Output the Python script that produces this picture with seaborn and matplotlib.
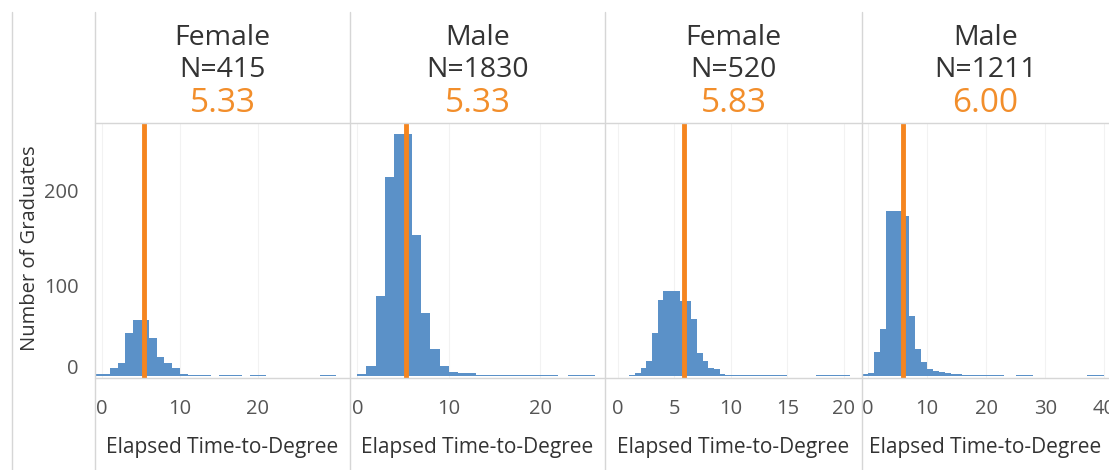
import matplotlib
matplotlib.use("Agg")
import matplotlib.pyplot as plt
import matplotlib.transforms as mtransforms
from matplotlib.lines import Line2D
import seaborn as sns
import numpy as np

## chart data
genders = ["Female", "Male", "Female", "Male"]
n_grads = [415, 1830, 520, 1211]
medians = [5.33, 5.33, 5.83, 6.00]

## histogram bins: first left edge, bin width, counts per bin
p1_start, p1_width = -1, 1.0
p1_counts = [2, 2, 8, 14, 45, 59, 59, 40, 20, 14, 8, 2, 1, 1, 1, 0, 1, 1, 1, 0,
             1, 1, 0, 0, 0, 0, 0, 0, 0, 1, 1]
p2_start, p2_width = 0, 1.0
p2_counts = [2, 11, 84, 209, 254, 254, 148, 66, 29, 11, 4, 3, 3, 1, 1, 1, 1, 1,
             1, 1, 1, 1, 0, 1, 1, 1]
p3_start, p3_width = 1.0, 0.5
p3_counts = [1, 3, 8, 16, 45, 80, 89, 89, 89, 79, 79, 60, 24, 16, 8, 7, 2, 1,
             1, 1, 1, 1, 1, 1, 1, 1, 1, 1, 0, 0, 0, 0, 0, 1, 1, 1, 1, 1, 1]
p4_start, p4_width = -1, 1.0
p4_counts = [2, 3, 25, 50, 173, 173, 173, 168, 63, 28, 15, 7, 5, 4, 3, 2, 2,
             1, 1, 1, 1, 1, 1, 1, 0, 0, 1, 1, 1, 0, 0, 0, 0, 0, 0, 0, 0, 0, 1, 1, 1]

x_ticks = [[0, 10, 20], [0, 10, 20], [0, 5, 10, 15, 20], [0, 10, 20, 30, 40]]
x_limits = [(-0.9, 31.8), (-0.8, 27.1), (-1.15, 21.6), (-1.0, 40.8)]
y_ticks = [0, 100, 200]

bins = [(p1_start, p1_width, p1_counts), (p2_start, p2_width, p2_counts),
        (p3_start, p3_width, p3_counts), (p4_start, p4_width, p4_counts)]

BLUE = "#5b91c8"
ORANGE_LINE = "#f5851f"
ORANGE_TEXT = "#f28e2b"
GRID = "#d6d6d6"
TXT = "#333333"

sns.set_style("white")
plt.rcParams['font.family'] = ['Open Sans', 'DejaVu Sans']

W, H = 1109, 470
fig = plt.figure(figsize=(W / 100, H / 100), dpi=100)

def fx(x):
    return x / W

def fy(y):
    return 1 - y / H

## panel frame in pixels
lefts = [95, 350, 605, 862]
rights = [350, 605, 862, 1109]
top_px, bottom_px = 123, 378

for i in range(4):
    l, r = lefts[i], rights[i]
    ax = fig.add_axes([fx(l), fy(bottom_px), (r - l) / W, (bottom_px - top_px) / H])
    start, width, counts = bins[i]
    centers = start + width * (np.arange(len(counts)) + 0.5)
    sns.histplot(x=centers, weights=counts, binwidth=width,
                 binrange=(start, start + width * len(counts)),
                 color=BLUE, alpha=1, linewidth=0, ax=ax)
    ax.axvline(medians[i], color=ORANGE_LINE, lw=3.5, zorder=3)
    ax.set_xlim(*x_limits[i])
    ax.set_ylim(-2, 266)
    ax.set_xticks(x_ticks[i])
    ax.grid(axis='x', color="#f2f2f2", lw=0.8)
    ax.set_axisbelow(True)
    for s in ax.spines.values():
        s.set_visible(False)
    ax.tick_params(axis='x', length=0, pad=15, labelsize=14.5, labelcolor="#555555")
    ax.set_xlabel("")
    ax.set_ylabel("")
    if i == 0:
        ax.set_yticks(y_ticks)
        ax.tick_params(axis='y', length=0, pad=12, labelsize=14.5, labelcolor="#555555")
        # tableau nudges the axis labels: bottom one up, others a bit down
        for lab, dy in zip(ax.get_yticklabels(), [10, -5, -5]):
            lab.set_transform(lab.get_transform() +
                              mtransforms.ScaledTranslation(0, dy / 100, fig.dpi_scale_trans))
    else:
        ax.set_yticks([])

    cx = fx((l + r) / 2)
    fig.text(cx, fy(38), genders[i], ha='center', va='center', fontsize=20.5, color=TXT)
    fig.text(cx, fy(70), f"N={n_grads[i]}", ha='center', va='center', fontsize=20.5, color=TXT)
    fig.text(cx, fy(103), f"{medians[i]:.2f}", ha='center', va='center', fontsize=24,
             color=ORANGE_TEXT)
    fig.text(cx, fy(447), "Elapsed Time-to-Degree", ha='center', va='center',
             fontsize=15, color=TXT)

fig.text(fx(30), fy(248), "Number of Graduates", rotation=90, ha='center', va='center',
         fontsize=14.5, color=TXT)

## frame lines
def hline(y, x0, x1):
    fig.add_artist(Line2D([fx(x0), fx(x1)], [fy(y), fy(y)], color=GRID, lw=1))

def vline(x, y0, y1):
    fig.add_artist(Line2D([fx(x), fx(x)], [fy(y0), fy(y1)], color=GRID, lw=1))

vline(12, 12, H)
for x in lefts:
    vline(x, 12, H)
hline(top_px, 95, W)
hline(bottom_px, 95, W)

fig.savefig("out.png", dpi=100)
